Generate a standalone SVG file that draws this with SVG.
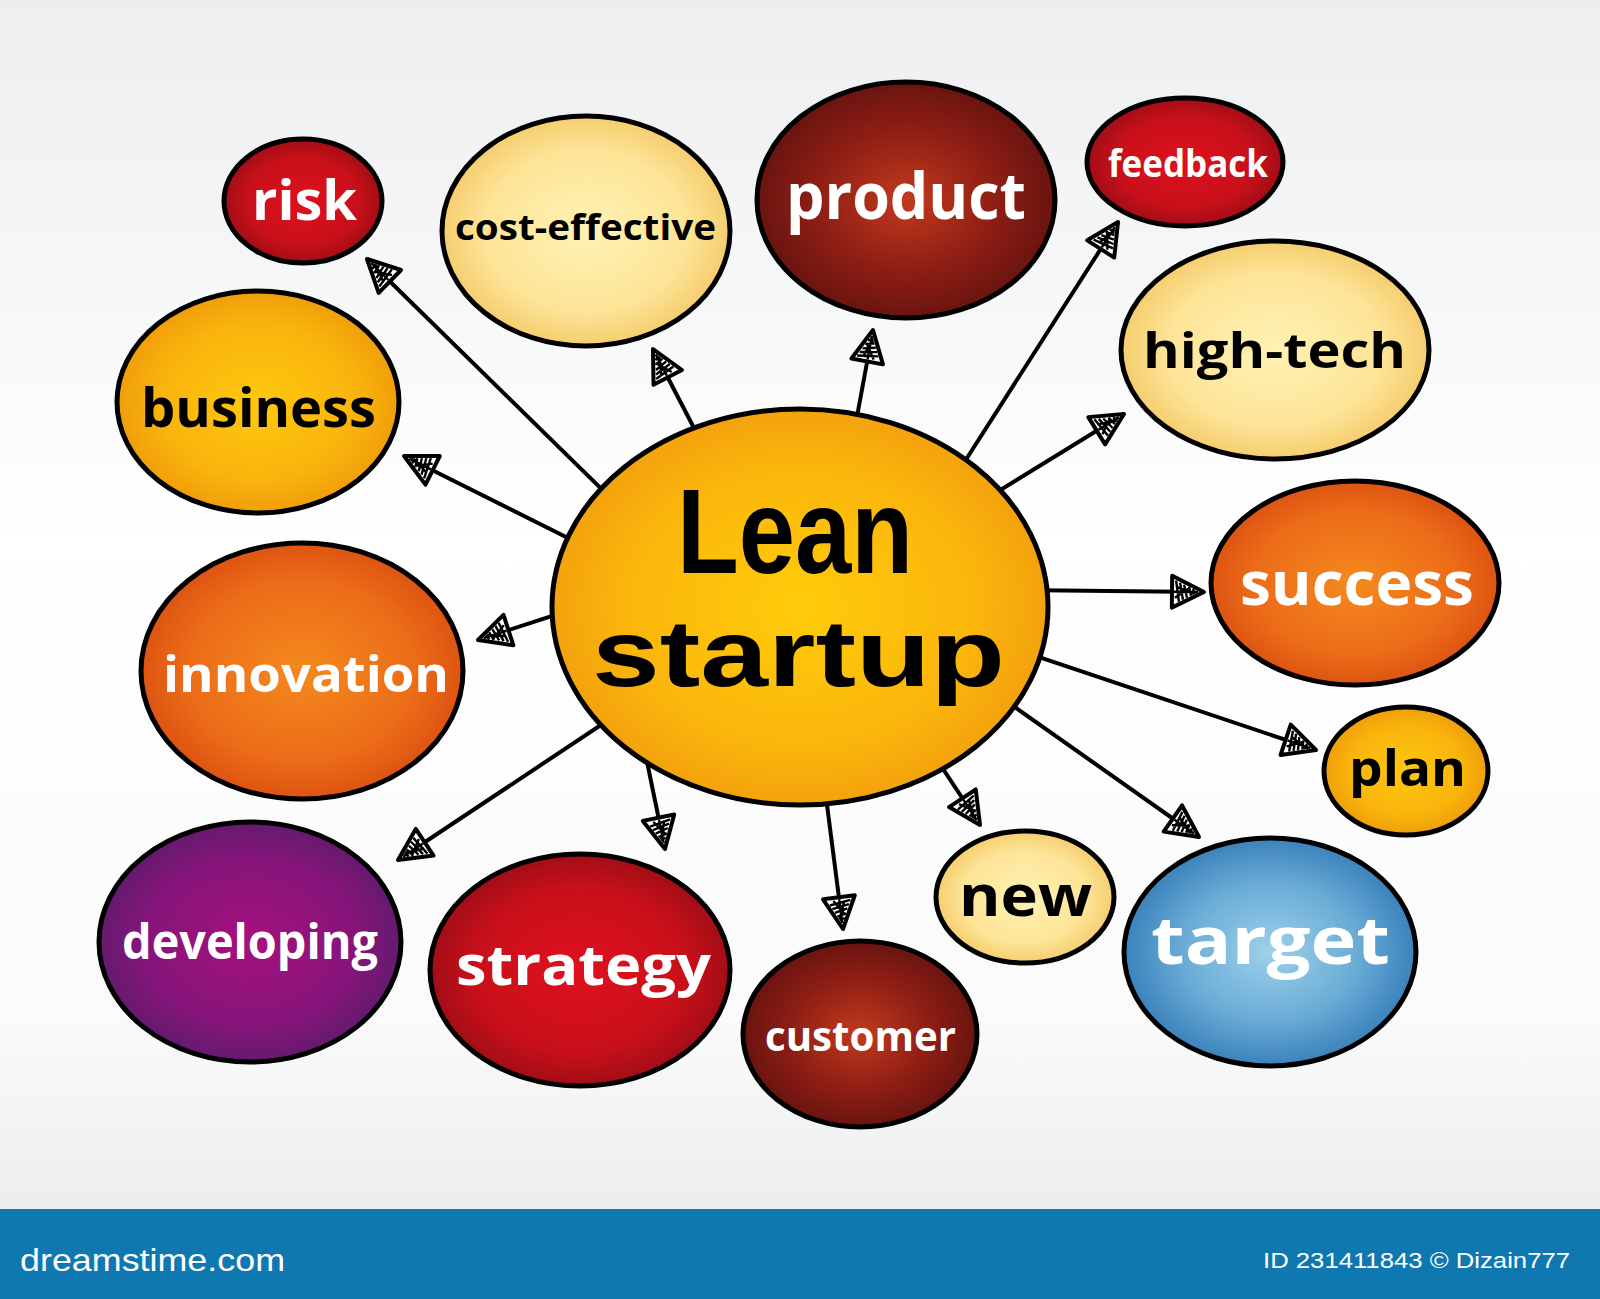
<svg xmlns="http://www.w3.org/2000/svg" width="1600" height="1299" viewBox="0 0 1600 1299">
<defs>
<linearGradient id="bg" x1="0" y1="0" x2="0" y2="1">
<stop offset="0" stop-color="#eceef0"/><stop offset="0.45" stop-color="#ffffff"/><stop offset="0.85" stop-color="#fafafa"/><stop offset="1" stop-color="#ebedef"/>
</linearGradient>
<radialGradient id="gRed"><stop offset="0" stop-color="#e0101e"/><stop offset="0.7" stop-color="#c8101a"/><stop offset="1" stop-color="#a20d16"/></radialGradient>
<radialGradient id="gMaroon"><stop offset="0" stop-color="#c23a1c"/><stop offset="0.6" stop-color="#8e1e14"/><stop offset="1" stop-color="#6a1410"/></radialGradient>
<radialGradient id="gPale"><stop offset="0" stop-color="#fff2b4"/><stop offset="0.7" stop-color="#fde497"/><stop offset="1" stop-color="#f5cd6e"/></radialGradient>
<radialGradient id="gGold"><stop offset="0" stop-color="#ffc80e"/><stop offset="0.7" stop-color="#f9b40c"/><stop offset="1" stop-color="#f09e0a"/></radialGradient>
<radialGradient id="gCenter"><stop offset="0" stop-color="#ffcc0a"/><stop offset="0.7" stop-color="#fbb60c"/><stop offset="1" stop-color="#f3a20c"/></radialGradient>
<radialGradient id="gOrange"><stop offset="0" stop-color="#f5891e"/><stop offset="0.7" stop-color="#ec6c18"/><stop offset="1" stop-color="#dd5412"/></radialGradient>
<radialGradient id="gPurple"><stop offset="0" stop-color="#a5107e"/><stop offset="0.7" stop-color="#85157a"/><stop offset="1" stop-color="#651a6e"/></radialGradient>
<radialGradient id="gBlue"><stop offset="0" stop-color="#9ed0ea"/><stop offset="0.6" stop-color="#6aacd6"/><stop offset="1" stop-color="#3b82bc"/></radialGradient>
<marker id="ah" viewBox="-3 -20 40 40" refX="34" refY="0" markerWidth="40" markerHeight="40" markerUnits="userSpaceOnUse" orient="auto">
<path d="M2,-16 L34,0 L2,16 Z" fill="#fff" stroke="#000" stroke-width="4" stroke-linejoin="round"/>
<path d="M6,-11 L9,10 M10,-9 L13,8 M14,-7 L17,6 M19,-5 L21,4 M23,-3 L25,2 M5,6 L20,-4 M6,-5 L24,2 M4,0 L28,0" stroke="#000" stroke-width="2.4" fill="none"/>
</marker>
</defs>
<style>
.node{stroke:#000;stroke-width:5}
.t{font-family:"Open Sans","DejaVu Sans",sans-serif;font-weight:700;text-anchor:start}
.c{font-family:"Liberation Sans",Arial,sans-serif;font-weight:700}
.w{fill:#fff}
.k{fill:#000}
.con{stroke:#000;stroke-width:4;fill:none;marker-end:url(#ah)}
</style>
<rect x="0" y="0" width="1600" height="1209" fill="url(#bg)"/>
<g id="connectors">
<line class="con" x1="627" y1="514" x2="367" y2="259"/>
<line class="con" x1="708" y1="455" x2="653" y2="349"/>
<line class="con" x1="851" y1="449" x2="873" y2="330"/>
<line class="con" x1="951" y1="483" x2="1118" y2="222"/>
<line class="con" x1="976" y1="505" x2="1124" y2="414"/>
<line class="con" x1="600" y1="554" x2="404" y2="456"/>
<line class="con" x1="589" y1="604" x2="478" y2="640"/>
<line class="con" x1="1009" y1="590" x2="1204" y2="592"/>
<line class="con" x1="1003" y1="645" x2="1316" y2="750"/>
<line class="con" x1="982" y1="684" x2="1199" y2="837"/>
<line class="con" x1="922" y1="737" x2="980" y2="825"/>
<line class="con" x1="822" y1="766" x2="843" y2="929"/>
<line class="con" x1="645" y1="752" x2="665" y2="849"/>
<line class="con" x1="625" y1="709" x2="398" y2="860"/>
</g>
<g id="center">
<ellipse class="node" cx="800" cy="607" rx="248" ry="198" fill="url(#gCenter)" stroke-width="7"/>
<text class="c k" x="677" y="573" font-size="120" textLength="236" lengthAdjust="spacingAndGlyphs">Lean</text>
<text class="c k" x="592" y="686" font-size="95" textLength="413" lengthAdjust="spacingAndGlyphs">startup</text>
</g>
<g id="risk">
<ellipse class="node" cx="303" cy="201" rx="79" ry="62" fill="url(#gRed)" stroke-width="4"/>
<text class="t w" x="252" y="220" font-size="56" textLength="105" lengthAdjust="spacingAndGlyphs">risk</text>
</g>
<g id="cost-effective">
<ellipse class="node" cx="586" cy="231" rx="144" ry="115" fill="url(#gPale)"/>
<text class="t k" x="455" y="240" font-size="36" textLength="261" lengthAdjust="spacingAndGlyphs">cost-effective</text>
</g>
<g id="product">
<ellipse class="node" cx="906" cy="200" rx="149" ry="118" fill="url(#gMaroon)"/>
<text class="t w" x="786" y="219" font-size="64" textLength="240" lengthAdjust="spacingAndGlyphs">product</text>
</g>
<g id="feedback">
<ellipse class="node" cx="1185" cy="162" rx="98" ry="64" fill="url(#gRed)" stroke-width="4"/>
<text class="t w" x="1108" y="177" font-size="38" textLength="160" lengthAdjust="spacingAndGlyphs">feedback</text>
</g>
<g id="high-tech">
<ellipse class="node" cx="1275" cy="350" rx="154" ry="109" fill="url(#gPale)"/>
<text class="t k" x="1143" y="368" font-size="48" textLength="263" lengthAdjust="spacingAndGlyphs">high-tech</text>
</g>
<g id="business">
<ellipse class="node" cx="258" cy="402" rx="141" ry="111" fill="url(#gGold)"/>
<text class="t k" x="141" y="427" font-size="54" textLength="235" lengthAdjust="spacingAndGlyphs">business</text>
</g>
<g id="innovation">
<ellipse class="node" cx="302" cy="671" rx="161" ry="128" fill="url(#gOrange)"/>
<text class="t w" x="163" y="692" font-size="50" textLength="286" lengthAdjust="spacingAndGlyphs">innovation</text>
</g>
<g id="success">
<ellipse class="node" cx="1355" cy="583" rx="144" ry="102" fill="url(#gOrange)"/>
<text class="t w" x="1240" y="605" font-size="60" textLength="234" lengthAdjust="spacingAndGlyphs">success</text>
</g>
<g id="plan">
<ellipse class="node" cx="1406" cy="771" rx="82" ry="64" fill="url(#gGold)" stroke-width="4"/>
<text class="t k" x="1349" y="786" font-size="50" textLength="117" lengthAdjust="spacingAndGlyphs">plan</text>
</g>
<g id="developing">
<ellipse class="node" cx="250" cy="942" rx="151" ry="120" fill="url(#gPurple)"/>
<text class="t w" x="122" y="959" font-size="48" textLength="256" lengthAdjust="spacingAndGlyphs">developing</text>
</g>
<g id="strategy">
<ellipse class="node" cx="580" cy="970" rx="150" ry="116" fill="url(#gRed)"/>
<text class="t w" x="456" y="985" font-size="56" textLength="255" lengthAdjust="spacingAndGlyphs">strategy</text>
</g>
<g id="customer">
<ellipse class="node" cx="860" cy="1034" rx="117" ry="93" fill="url(#gMaroon)"/>
<text class="t w" x="765" y="1051" font-size="42" textLength="191" lengthAdjust="spacingAndGlyphs">customer</text>
</g>
<g id="new">
<ellipse class="node" cx="1025" cy="897" rx="89" ry="66" fill="url(#gPale)" stroke-width="4"/>
<text class="t k" x="959" y="916" font-size="58" textLength="133" lengthAdjust="spacingAndGlyphs">new</text>
</g>
<g id="target">
<ellipse class="node" cx="1270" cy="952" rx="146" ry="114" fill="url(#gBlue)"/>
<text class="t w" x="1151" y="964" font-size="66" textLength="239" lengthAdjust="spacingAndGlyphs">target</text>
</g>
<rect x="0" y="1209" width="1600" height="90" fill="#0f78b0"/>
<text x="20" y="1271" font-family="'Liberation Sans',sans-serif" font-size="32" fill="#fff" textLength="265" lengthAdjust="spacingAndGlyphs">dreamstime.com</text>
<text x="1263" y="1268" font-family="'Liberation Sans',sans-serif" font-size="22" fill="#fff" textLength="307" lengthAdjust="spacingAndGlyphs">ID 231411843 © Dizain777</text>
</svg>
